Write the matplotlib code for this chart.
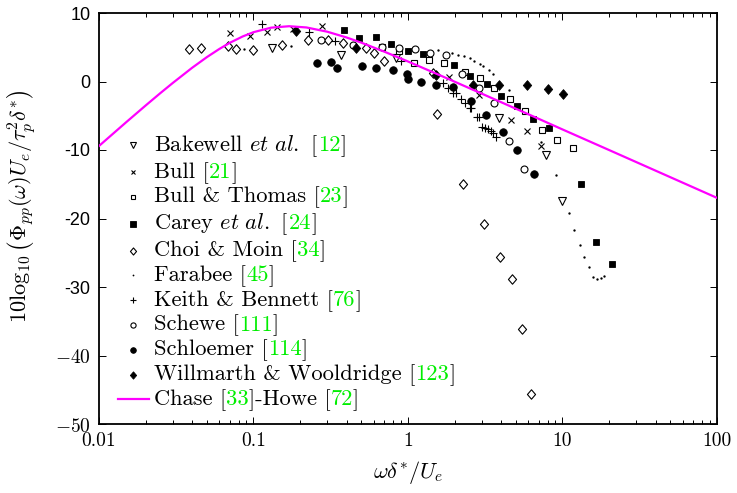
import matplotlib
matplotlib.use('Agg')
import matplotlib.pyplot as plt
from matplotlib.path import Path
from matplotlib.lines import Line2D
from matplotlib.ticker import NullFormatter
from matplotlib.offsetbox import AnchoredOffsetbox, HPacker, VPacker, TextArea, DrawingArea

plt.rcParams['mathtext.fontset'] = 'cm'
plt.rcParams['axes.unicode_minus'] = False

# ------------------------------------------------------------------
# data (x = omega delta*/U_e, y = dB)
# ------------------------------------------------------------------
bakewell_x = [0.1317, 0.3657, 0.8325, 3.898, 7.856, 9.97]
bakewell_y = [4.93, 3.87, 3.39, -5.37, -10.73, -17.40]

bull_x = [0.0705, 0.0949, 0.1217, 0.1413, 0.1794, 0.2763, 1.842, 2.860, 4.621, 5.866, 7.225]
bull_y = [7.04, 6.69, 7.27, 7.91, 7.66, 8.10, 0.66, -2.04, -5.62, -7.27, -9.42]

bullthomas_x = [0.6739, 0.8785, 1.094, 1.361, 1.702, 2.349, 2.946, 3.614, 4.573, 5.72, 7.345, 9.28, 11.75]
bullthomas_y = [5.08, 4.42, 2.74, 3.14, 2.63, 1.43, 0.58, -0.91, -2.53, -4.35, -7.12, -8.48, -9.78]

carey_x = [0.3853, 0.4840, 0.6207, 0.7727, 0.9956, 1.251, 1.979, 2.538, 3.232, 3.987,
           5.097, 6.414, 8.155, 13.18, 16.40, 20.82]
carey_y = [7.52, 6.42, 6.54, 5.43, 4.45, 3.97, 2.36, 0.83, -0.31, -2.09,
           -3.53, -5.52, -6.74, -15.01, -23.47, -26.64]

choi_x = [0.0382, 0.0454, 0.0687, 0.0770, 0.0993, 0.1534, 0.2253, 0.3013, 0.3824, 0.5347,
          0.6043, 0.6994, 1.458, 1.541, 2.280, 3.118, 3.928, 4.677, 5.485, 6.254]
choi_y = [4.70, 4.85, 5.18, 4.74, 4.63, 5.37, 6.13, 6.06, 5.69, 4.85,
          4.12, 2.99, 1.17, -4.79, -14.99, -20.85, -25.58, -28.90, -36.18, -45.69]

farabee_x = [0.0868, 0.1741, 1.564, 1.927, 2.107, 2.304, 2.501, 2.674, 2.903, 3.058, 3.359, 3.566,
             4.472, 7.225, 9.01, 11.02, 11.87, 12.98, 13.78, 14.78, 15.69, 16.65, 17.67, 18.56]
farabee_y = [4.70, 5.23, 4.60, 4.23, 3.94, 3.65, 3.36, 2.99, 2.51, 2.26, 1.68, 1.05,
             -1.31, -8.79, -13.65, -19.24, -21.68, -23.87, -25.66, -27.12, -28.50, -28.88, -28.64, -28.39]

keith_x = [0.1130, 0.2287, 0.3369, 0.8971, 1.692, 1.823, 1.964, 2.060, 2.187, 2.338,
           2.501, 2.576, 2.809, 2.894, 2.999, 3.150, 3.309, 3.430, 3.566, 3.712]
keith_y = [8.39, 7.18, 5.91, 2.99, -0.15, -0.95, -1.61, -1.64, -2.60, -3.21,
           -3.80, -3.94, -5.14, -5.23, -6.60, -6.74, -6.98, -7.18, -7.56, -8.06]

schewe_x = [0.2735, 0.4385, 0.6759, 0.8785, 1.110, 1.388, 1.754, 2.220, 2.894, 3.604, 4.525, 5.658]
schewe_y = [6.06, 5.37, 5.08, 4.82, 4.70, 4.16, 3.87, 1.09, -0.88, -3.21, -8.69, -12.74]

schloemer_x = [0.2565, 0.3160, 0.3455, 0.5061, 0.6207, 0.8056, 0.9779, 0.9926, 1.214, 1.518,
               1.964, 2.576, 3.183, 4.090, 5.112, 6.540]
schloemer_y = [2.66, 2.80, 2.01, 2.31, 1.97, 1.61, 1.09, 0.36, -0.03, -0.58,
               -0.76, -2.80, -4.89, -7.37, -10.00, -13.50]

willmarth_x = [0.1884, 0.4607, 1.507, 2.647, 3.893, 5.866, 8.022, 10.12]
willmarth_y = [7.42, 4.82, 1.02, -0.51, -0.51, -0.47, -1.14, -1.80]

chase_x = [0.01, 0.012, 0.015, 0.02, 0.025, 0.03, 0.04, 0.05, 0.06, 0.07, 0.085, 0.1, 0.13, 0.17,
           0.22, 0.3, 0.4, 0.5, 0.7, 1, 1.5, 2, 3, 5, 7, 10, 20, 50, 100]
chase_y = [-9.41, -7.85, -5.94, -3.52, -1.68, -0.22, 1.99, 3.57, 4.74, 5.63, 6.57, 7.20, 7.86, 8.07,
           7.89, 7.27, 6.43, 5.66, 4.37, 2.92, 1.21, -0.02, -1.77, -3.98, -5.44, -7.00, -10.0, -13.98, -16.99]

x_ticks = [0.01, 0.1, 1, 10, 100]
x_tick_labels = ['0.01', '0.1', '1', '10', '100']
y_ticks = [-50, -40, -30, -20, -10, 0, 10]
y_tick_labels = [r'$-50$', r'$-40$', '-30', '-20', '-10', '0', '10']

MAGENTA = '#ff00ff'
CM = ['cmr10', 'DejaVu Serif']

# slightly tall diamond, like the original
diamond = Path([(0, 1), (0.86, 0), (0, -1), (-0.86, 0), (0, 1)],
               [Path.MOVETO, Path.LINETO, Path.LINETO, Path.LINETO, Path.CLOSEPOLY])

series = [
    ('Bakewell $et\\ al.$ [', '12', ']', bakewell_x, bakewell_y,
     dict(marker='v', ms=6.3, mfc='white', mec='k', mew=0.8)),
    ('Bull [', '21', ']', bull_x, bull_y,
     dict(marker='x', ms=4.3, mec='k', mew=0.8)),
    ('Bull & Thomas [', '23', ']', bullthomas_x, bullthomas_y,
     dict(marker='s', ms=4.6, mfc='white', mec='k', mew=0.8)),
    ('Carey $et\\ al.$ [', '24', ']', carey_x, carey_y,
     dict(marker='s', ms=5.0, mfc='k', mec='k', mew=0.6)),
    ('Choi & Moin [', '34', ']', choi_x, choi_y,
     dict(marker=diamond, ms=6.8, mfc='white', mec='k', mew=0.8)),
    ('Farabee [', '45', ']', farabee_x, farabee_y,
     dict(marker='o', ms=1.7, mfc='k', mec='k', mew=0)),
    ('Keith & Bennett [', '76', ']', keith_x, keith_y,
     dict(marker='+', ms=6, mec='k', mew=0.8)),
    ('Schewe [', '111', ']', schewe_x, schewe_y,
     dict(marker='o', ms=5, mfc='white', mec='k', mew=0.8)),
    ('Schloemer [', '114', ']', schloemer_x, schloemer_y,
     dict(marker='o', ms=5.4, mfc='k', mec='k', mew=0.6)),
    ('Willmarth & Wooldridge [', '123', ']', willmarth_x, willmarth_y,
     dict(marker=diamond, ms=7, mfc='k', mec='k', mew=0.6)),
]

fig = plt.figure(figsize=(7.37, 4.93), dpi=100)
ax = fig.add_axes([99 / 737, 69 / 493, 618 / 737, 411 / 493])

for _, _, _, xs, ys, st in series:
    ax.plot(xs, ys, linestyle='none', **st)

ax.plot(chase_x, chase_y, color=MAGENTA, lw=1.6, zorder=5)

ax.set_xscale('log')
ax.set_xlim(0.01, 100)
ax.set_ylim(-50, 10)

ax.set_xticks(x_ticks)
ax.set_xticklabels(x_tick_labels, fontfamily=CM, fontsize=14)
ax.xaxis.set_minor_formatter(NullFormatter())
ax.set_yticks(y_ticks)
ax.set_yticklabels(y_tick_labels, fontsize=13)
for lab in ax.get_yticklabels():
    if lab.get_text().startswith('$'):
        lab.set_fontsize(14)
    else:
        lab.set_fontfamily('Liberation Sans')

ax.tick_params(which='both', direction='in', top=True, right=True, width=0.7)
ax.tick_params(which='major', length=5, pad=6)
ax.tick_params(which='minor', length=3)
for sp in ax.spines.values():
    sp.set_linewidth(1.3)

ax.set_xlabel(r'$\omega\delta^{*}/U_e$', fontsize=16)
ax.set_ylabel(r'$10\log_{10}\left(\Phi_{pp}(\omega)U_e/\tau_p^2\delta^{*}\right)$', fontsize=16)
ax.xaxis.set_label_coords(0.5, -0.085)
ax.yaxis.set_label_coords(-0.099, 0.53)

# ------------------------------------------------------------------
# legend built by hand so the reference numbers can be green
# ------------------------------------------------------------------
def legend_row(parts, style=None):
    da = DrawingArea(26, 8, 0, 0)
    if style is None:
        da.add_artist(Line2D([0, 22.5], [4, 4], color=MAGENTA, lw=1.6))
    else:
        small = dict(style)
        small['ms'] = style['ms'] * 0.75
        da.add_artist(Line2D([10.8], [4], linestyle='none', **small))
    boxes = [da]
    for txt, col in parts:
        boxes.append(TextArea(txt, textprops=dict(color=col, fontsize=16.2, fontfamily=CM)))
    return HPacker(children=boxes, align='baseline', pad=0, sep=0)

rows = []
for pre, num, post, _, _, st in series:
    rows.append(legend_row([(pre, 'k'), (num, '#00ee00'), (post, 'k')], st))
rows.append(legend_row([('Chase [', 'k'), ('33', '#00ee00'), (']-Howe [', 'k'),
                        ('72', '#00ee00'), (']', 'k')]))

leg = AnchoredOffsetbox(loc='upper left', child=VPacker(children=rows, align='left', pad=0, sep=2.2),
                        bbox_to_anchor=(118 / 737, 1 - 133 / 493), bbox_transform=fig.transFigure,
                        frameon=False, pad=0, borderpad=0)
ax.add_artist(leg)

fig.savefig('out.png', dpi=100)
